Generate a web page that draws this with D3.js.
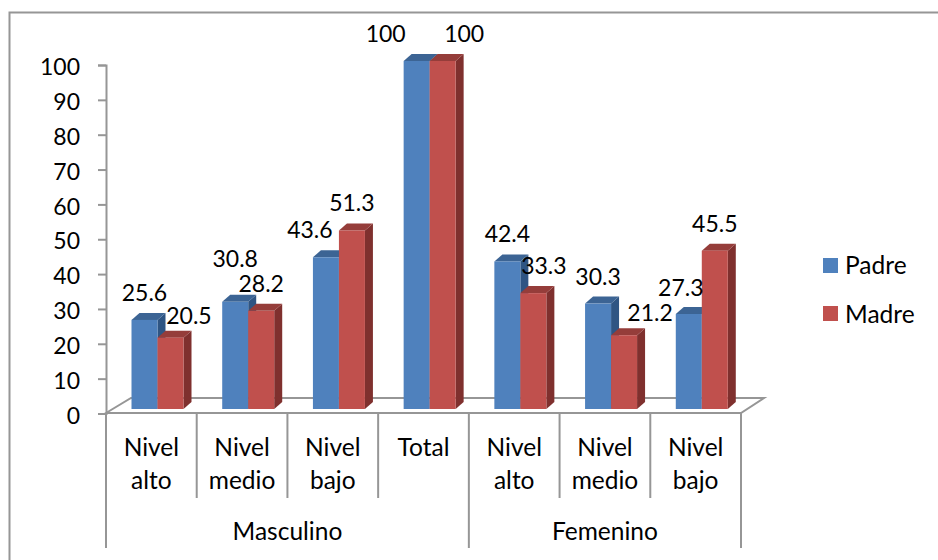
<!DOCTYPE html>
<html>
<head>
<meta charset="utf-8">
<script src="https://cdnjs.cloudflare.com/ajax/libs/d3/7.8.5/d3.min.js"></script>
<style>
html,body{margin:0;padding:0;background:#fff}
svg{display:block}
text{font-family:Lato,"Open Sans",sans-serif;font-size:24.5px;fill:#000}
text.num{font-size:23px}
</style>
</head>
<body>
<svg id="chart" width="938" height="560"></svg>
<script>
// Survey percentages by group and level
const groups = ["Masculino", "Femenino"];
const categories = ["Nivel alto", "Nivel medio", "Nivel bajo", "Total", "Nivel alto", "Nivel medio", "Nivel bajo"];
const categoryGroup = [0, 0, 0, 0, 1, 1, 1];
const padre = [25.6, 30.8, 43.6, 100, 42.4, 30.3, 27.3];
const madre = [20.5, 28.2, 51.3, 100, 33.3, 21.2, 45.5];
const seriesNames = ["Padre", "Madre"];
const yTicks = [0, 10, 20, 30, 40, 50, 60, 70, 80, 90, 100];

// Hand-placed label nudges, [dx, dy] from the default spot above each bar
const padreNudge = [[0, 0], [0, -16], [-16, 0], [-31, 0], [0, 0], [0, 0], [-8, 1]];
const madreNudge = [[18.5, 5], [0, 0], [0, 0], [21.5, 0], [10.5, 0], [26, 5], [0, 0]];

const svg = d3.select("#chart");
const grey = "#969696";
const depthX = 8, depthY = 7;
const colors = [
  {front: "#4f81bd", top: "#3c6494", side: "#2f5583"},
  {front: "#c0504d", top: "#953d3a", side: "#7f302e"}
];

const x = d3.scaleBand().domain(d3.range(categories.length)).range([106, 741]);
const inner = d3.scaleBand().domain([0, 1]).range([25.5, 77.5]);
const axisY = d3.scaleLinear().domain([0, 100]).range([413.5, 65]);
const barY = d3.scaleLinear().domain([0, 100]).range([409, 61]);

// Chart frame, running off the right and bottom of the page
svg.append("path")
  .attr("d", "M9.5,560V12.5H938")
  .attr("fill", "none").attr("stroke", grey).attr("stroke-width", 2);

// Floor of the 3D plot
svg.append("path")
  .attr("d", `M106,413L${106 + 25},398H764L741,413Z`)
  .attr("fill", "#fff").attr("stroke", grey).attr("stroke-width", 2);

// Value axis
const yAxis = d3.axisLeft(axisY).tickValues(yTicks).tickSize(8).tickPadding(18);
const yG = svg.append("g").attr("transform", "translate(106,0)").call(yAxis);
yG.selectAll("path,line").attr("stroke", grey).attr("stroke-width", 2);
yG.selectAll("text").attr("class", "num").attr("dy", "0.42em").attr("font-size", null).attr("font-family", null);

// Category axis: short dividers inside a group, long ones around each group
const edges = d3.range(categories.length + 1).map(i => i < categories.length ? x(i) : x.range()[1]);
const longEdge = new Set([0, 4, 7]);
svg.append("g").selectAll("line").data(edges).join("line")
  .attr("x1", d => d).attr("x2", d => d)
  .attr("y1", 413)
  .attr("y2", (d, i) => longEdge.has(i) ? 548 : 498)
  .attr("stroke", grey).attr("stroke-width", 2);

const catText = svg.append("g").selectAll("text").data(categories).join("text")
  .attr("text-anchor", "middle")
  .attr("transform", (d, i) => `translate(${x(i) + x.bandwidth() / 2},0)`);
catText.each(function (d) {
  const words = d.split(" ");
  d3.select(this).selectAll("tspan").data(words).join("tspan")
    .attr("x", 0)
    .attr("y", (w, j) => 456 + j * 33)
    .text(w => w);
});

svg.append("g").selectAll("text").data(groups).join("text")
  .attr("text-anchor", "middle")
  .attr("x", (d, g) => {
    const idx = categoryGroup.map((c, i) => c === g ? i : -1).filter(i => i >= 0);
    return (x(idx[0]) + x(idx[idx.length - 1]) + x.bandwidth()) / 2;
  })
  .attr("y", 540)
  .text(d => d);

// Extruded bars: side, top, then front face
[padre, madre].forEach((values, s) => {
  const c = colors[s];
  const g = svg.append("g");
  const left = i => x(i) + inner(s);
  const w = inner.bandwidth();
  g.selectAll(".side").data(values).join("path")
    .attr("fill", c.side)
    .attr("d", (v, i) => `M${left(i) + w},${barY(v)}l${depthX},${-depthY}V${barY(0) - depthY}l${-depthX},${depthY}Z`);
  g.selectAll(".top").data(values).join("path")
    .attr("fill", c.top)
    .attr("d", (v, i) => `M${left(i)},${barY(v)}l${depthX},${-depthY}h${w}l${-depthX},${depthY}Z`);
  g.selectAll(".front").data(values).join("rect")
    .attr("fill", c.front)
    .attr("x", (v, i) => left(i)).attr("width", w)
    .attr("y", v => barY(v)).attr("height", v => barY(0) - barY(v));
});

// Value labels sit above everything else
[[padre, padreNudge], [madre, madreNudge]].forEach(([values, nudge], s) => {
  svg.append("g").selectAll("text").data(values).join("text")
    .attr("class", "num")
    .attr("text-anchor", "middle")
    .attr("x", (v, i) => x(i) + inner(s) + inner.bandwidth() / 2 + nudge[i][0])
    .attr("y", (v, i) => barY(v) - 19 + nudge[i][1])
    .text(v => v);
});

// Legend
const legend = svg.append("g").selectAll("g").data(seriesNames).join("g")
  .attr("transform", (d, i) => `translate(823,${258 + i * 48})`);
legend.append("rect").attr("width", 15).attr("height", 15).attr("fill", (d, i) => colors[i].front);
legend.append("text").attr("x", 22).attr("y", (d, i) => 15.5 + i).text(d => d);
</script>
</body>
</html>
